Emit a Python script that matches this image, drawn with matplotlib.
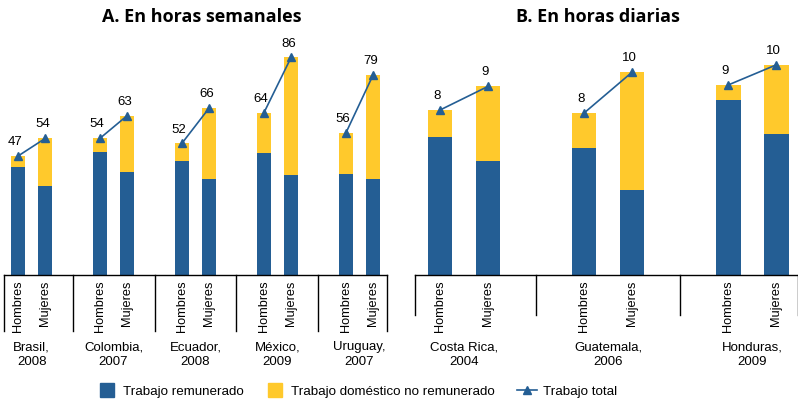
import matplotlib
matplotlib.use("Agg")
import matplotlib.pyplot as plt
from matplotlib.lines import Line2D
from matplotlib.transforms import blended_transform_factory

plt.rcParams['font.family'] = ['Liberation Sans', 'DejaVu Sans']

# Datos
sexos = ['Hombres', 'Mujeres']

paises_a = ['Brasil,\n2008', 'Colombia,\n2007', 'Ecuador,\n2008', 'México,\n2009', 'Uruguay,\n2007']
remunerado_a = [42.8, 35.3, 48.5, 40.8, 45.2, 38.1, 48.1, 39.6, 39.8, 37.8]
domestico_a = [4.2, 18.7, 5.5, 22.2, 6.8, 27.9, 15.9, 46.4, 16.2, 41.2]
total_a = [47, 54, 54, 63, 52, 66, 64, 86, 56, 79]

paises_b = ['Costa Rica,\n2004', 'Guatemala,\n2006', 'Honduras,\n2009']
remunerado_b = [6.67, 5.48, 6.13, 4.10, 8.43, 6.78]
domestico_b = [1.28, 3.61, 1.68, 5.68, 0.73, 3.35]
total_b = [7.95, 9.09, 7.81, 9.78, 9.16, 10.13]

azul = '#245E94'
amarillo = '#FFC92C'

W, H = 798, 403
fig = plt.figure(figsize=(W / 100, H / 100), dpi=100)


def fy(py):
    # pixel vertical -> fraccion de figura
    return 1 - py / H


def panel(rect, paises, remunerado, domestico, total, titulo, xlim, ytop,
          bar_w, div_bottom, div_first, title_x):
    ax = fig.add_axes(rect)
    n = len(paises)
    xs = []
    for i in range(n):
        xs += [3 * i, 3 * i + 1]
    ax.bar(xs, remunerado, width=bar_w, color=azul)
    ax.bar(xs, domestico, width=bar_w, bottom=remunerado, color=amarillo)
    for g in range(n):
        ax.plot(xs[2 * g:2 * g + 2], total[2 * g:2 * g + 2], color=azul,
                lw=1.2, marker='^', ms=6)
    for x, t in zip(xs, total):
        ax.annotate(f'{t:.0f}', (x, t), xytext=(-2, 10), textcoords='offset points',
                    ha='center', va='center', fontsize=9.5)
    ax.set_xlim(*xlim)
    ax.set_ylim(0, ytop)
    for s in ['top', 'right', 'left']:
        ax.spines[s].set_visible(False)
    ax.spines['bottom'].set_linewidth(1.0)
    ax.set_yticks([])
    ax.set_xticks(xs)
    ax.set_xticklabels(sexos * n, rotation=90, fontsize=9.2)
    ax.tick_params(axis='x', length=0, pad=4)

    tr = blended_transform_factory(ax.transData, fig.transFigure)
    divs = [div_first] + [3 * i - 1 for i in range(1, n)]
    if xlim[1] < 3 * n:
        divs.append(xlim[1])
    for d in divs:
        ax.add_line(Line2D([d, d], [fy(275), fy(div_bottom)], color='black',
                           lw=1.0, transform=tr, clip_on=False))
    for g, p in enumerate(paises):
        ax.text(3 * g + 0.5, fy(341), p, transform=tr, ha='center', va='top',
                fontsize=9.5, linespacing=1.3)
    fig.text(title_x, fy(17.5), titulo, ha='center', va='center',
             fontsize=13, fontweight='bold', family='Open Sans')
    return ax


bot = fy(275)
top = fy(40)
panel([4 / W, bot, 382.7 / W, top - bot], paises_a, remunerado_a, domestico_a,
      total_a, 'A. En horas semanales', (-0.51, 13.5), 235 / 2.53,
      0.52, 331, -0.51, 202 / W)
panel([415 / W, bot, 383 / W, top - bot], paises_b, remunerado_b, domestico_b,
      total_b, 'B. En horas diarias', (-0.52, 7.45), 235 / 20.75,
      0.51, 315, -0.52, 598 / W)

handles = [
    Line2D([], [], marker='s', color=azul, linestyle='None', markersize=10),
    Line2D([], [], marker='s', color=amarillo, linestyle='None', markersize=10),
    Line2D([], [], marker='^', color=azul, lw=1.2, markersize=6),
]
labels = ['Trabajo remunerado', 'Trabajo doméstico no remunerado', 'Trabajo total']
fig.legend(handles, labels, loc='center', bbox_to_anchor=(357 / W, fy(392)),
           ncol=3, frameon=False, fontsize=9.6, handlelength=1.5,
           handletextpad=0.45, columnspacing=1.6)

fig.savefig('out.png', dpi=100)
